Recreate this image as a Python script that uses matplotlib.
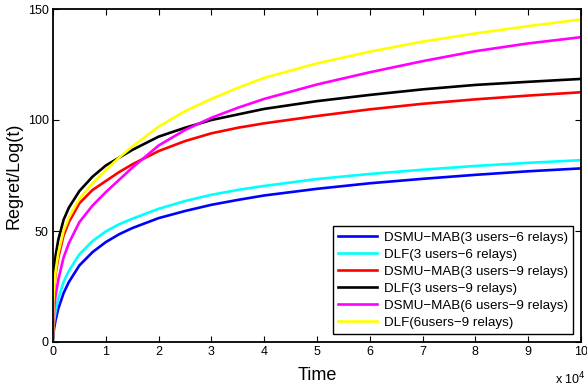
import matplotlib
matplotlib.use("Agg")
import matplotlib.pyplot as plt

# Time axis in units of 10^4
time_1e4 = [0, 0.005, 0.02, 0.05, 0.1, 0.2, 0.3, 0.5, 0.75, 1, 1.25, 1.5,
            2, 2.5, 3, 3.5, 4, 5, 6, 7, 8, 9, 10]

# Regret/Log(t) values
dsmu_3u6r = [1, 3, 6, 10, 15, 22, 27, 34.5, 40.5, 45, 48.5, 51.3,
             55.8, 59, 61.8, 64, 66, 69, 71.5, 73.5, 75.3, 76.9, 78.2]
dlf_3u6r = [1, 5, 9, 14, 19.5, 27, 32, 39.5, 45.5, 49.8, 53, 55.5,
            60, 63.5, 66.3, 68.5, 70.3, 73.4, 75.7, 77.6, 79.3, 80.7, 81.9]
dsmu_3u9r = [2, 18, 24, 31, 38, 48, 54, 62.5, 68.5, 72.5, 76.5, 80,
             86, 90.5, 94, 96.5, 98.5, 101.8, 104.8, 107.3, 109.3, 111, 112.5]
dlf_3u9r = [2, 25, 32, 39, 46, 55, 60.5, 68, 74.5, 79.5, 83, 86.5,
            92.5, 96.5, 100, 102.5, 105, 108.5, 111.3, 113.8, 115.8, 117.2, 118.5]
dsmu_6u9r = [2, 10, 15, 21, 28, 38, 44.5, 54, 61.5, 67.5, 73, 78.5,
             88.5, 95.5, 101, 105.5, 109.5, 116, 121.5, 126.5, 131, 134.5, 137.3]
dlf_6u9r = [2, 18, 24, 32, 40, 50, 56, 64.5, 71.5, 77.5, 83, 88,
            97, 104, 109.5, 114.5, 119, 125.5, 130.8, 135.3, 139, 142.3, 145.3]

series = [
    (dsmu_3u6r, "blue", "DSMU\u2212MAB(3 users\u22126 relays)"),
    (dlf_3u6r, "cyan", "DLF(3 users\u22126 relays)"),
    (dsmu_3u9r, "red", "DSMU\u2212MAB(3 users\u22129 relays)"),
    (dlf_3u9r, "black", "DLF(3 users\u22129 relays)"),
    (dsmu_6u9r, "magenta", "DSMU\u2212MAB(6 users\u22129 relays)"),
    (dlf_6u9r, "yellow", "DLF(6users\u22129 relays)"),
]

plt.rcParams["font.family"] = ["Liberation Sans", "DejaVu Sans"]

fig = plt.figure(figsize=(5.87, 3.86), dpi=100)
ax = fig.add_axes([53 / 587, 44 / 386, 528 / 587, 333 / 386])

for vals, color, label in series:
    ax.plot(time_1e4, vals, color=color, linewidth=1.9, label=label)

ax.set_xlim(0, 10)
ax.set_ylim(0, 150)
ax.set_xticks(range(0, 11))
ax.set_yticks([0, 50, 100, 150])
ax.tick_params(direction="in", top=True, right=True, length=4, width=0.8,
               labelsize=9, pad=3)
for sp in ax.spines.values():
    sp.set_linewidth(1.3)

ax.set_xlabel("Time", fontsize=13, labelpad=6)
ax.set_ylabel("Regret/Log(t)", fontsize=13, labelpad=4)
fig.text(555 / 587, 1 - 379 / 386, "x 10$^4$", fontsize=9, ha="left", va="center")

leg = ax.legend(loc="lower right", fontsize=9.6, frameon=True, fancybox=False,
                edgecolor="black", framealpha=1, handlelength=2.9,
                handletextpad=0.5, labelspacing=0.35, borderpad=0.4,
                borderaxespad=0.6)
leg.get_frame().set_linewidth(1.0)

fig.savefig("out.png", dpi=100)
